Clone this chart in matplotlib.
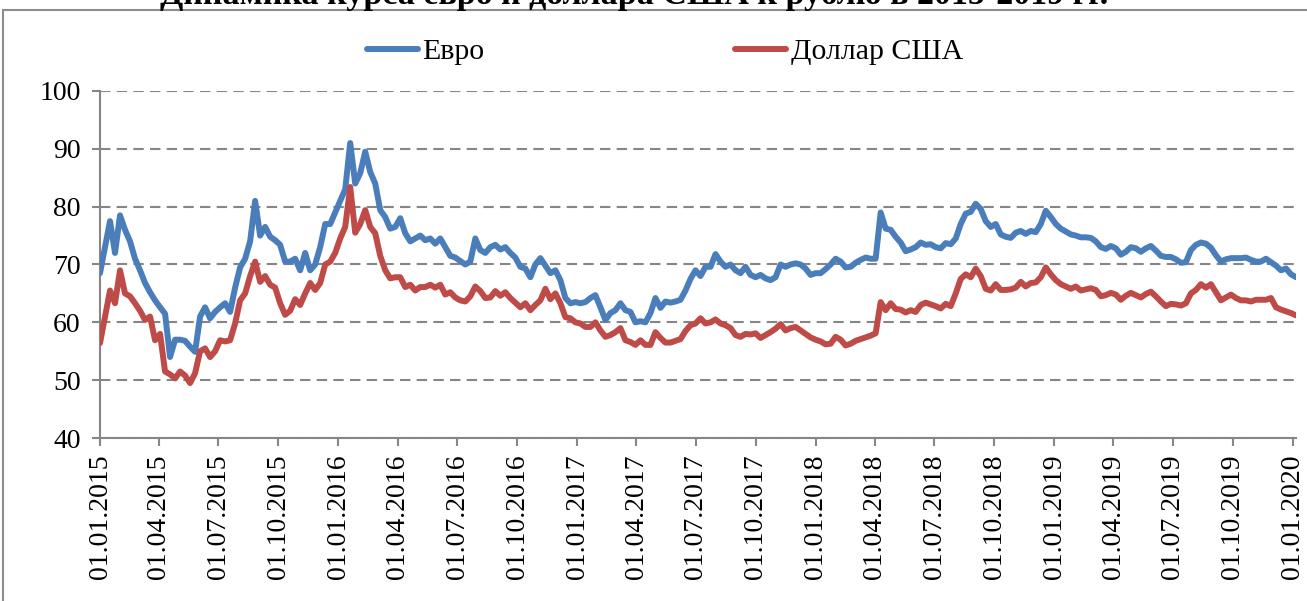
import matplotlib
matplotlib.use("Agg")
import matplotlib.pyplot as plt
import matplotlib.patches as mpatches
import pandas as pd

plt.rcParams['font.family'] = ['Liberation Serif', 'DejaVu Serif']

title = "Динамика курса евро и доллара США к рублю в 2015-2019 гг."
series_names = ["Евро", "Доллар США"]
start_date = "2015-01-01"
end_date = "2020-01-06"

# курс евро, руб. (шаг ~ 1 неделя)
euro = [
    68.5, 73.0, 77.5, 72.0, 78.5, 76.0, 74.0, 71.0, 69.0, 66.8,
    65.2, 63.8, 62.6, 61.5, 54.0, 57.0, 57.0, 56.8, 55.8, 54.9,
    61.0, 62.6, 60.7, 61.8, 62.6, 63.3, 61.8, 66.0, 69.5, 71.0,
    74.0, 81.0, 75.0, 76.5, 74.8, 74.2, 73.4, 70.5, 70.5, 71.0,
    69.0, 72.0, 69.0, 70.0, 73.0, 77.0, 77.0, 79.0, 81.0, 83.0,
    91.0, 84.0, 85.8, 89.5, 86.0, 84.0, 79.4, 78.2, 76.2, 76.5,
    78.0, 75.4, 74.0, 74.5, 75.0, 74.2, 74.5, 73.6, 74.5, 73.0,
    71.5, 71.2, 70.6, 70.0, 70.5, 74.5, 72.5, 72.0, 73.0, 73.4,
    72.6, 73.0, 72.0, 71.2, 69.6, 69.3, 67.8, 70.0, 71.1, 69.8,
    68.5, 69.0, 67.3, 64.2, 63.3, 63.5, 63.3, 63.5, 64.2, 64.7,
    62.6, 60.4, 61.6, 62.1, 63.3, 62.1, 61.8, 60.0, 60.2, 60.0,
    61.6, 64.2, 62.5, 63.6, 63.4, 63.6, 63.9, 65.5, 67.5, 69.0,
    68.0, 69.6, 69.6, 71.8, 70.5, 69.6, 70.0, 69.0, 68.5, 69.6,
    68.2, 67.8, 68.2, 67.6, 67.3, 67.8, 70.0, 69.6, 70.0, 70.2,
    70.0, 69.3, 68.2, 68.5, 68.5, 69.2, 70.0, 71.0, 70.5, 69.5,
    69.6, 70.3, 70.8, 71.2, 71.0, 71.0, 79.0, 76.2, 76.0, 74.8,
    73.8, 72.3, 72.6, 73.0, 73.8, 73.4, 73.5, 73.0, 72.8, 73.7,
    73.5, 74.5, 77.0, 78.8, 79.1, 80.5, 79.6, 77.5, 76.5, 77.0,
    75.2, 74.8, 74.6, 75.5, 75.8, 75.3, 75.8, 75.6, 77.0, 79.3,
    78.2, 77.0, 76.2, 75.7, 75.2, 75.0, 74.7, 74.7, 74.6, 74.0,
    73.0, 72.7, 73.2, 72.8, 71.7, 72.2, 73.0, 72.8, 72.2, 72.8,
    73.2, 72.4, 71.5, 71.3, 71.3, 70.9, 70.3, 70.4, 72.5, 73.4,
    73.8, 73.6, 72.9, 71.6, 70.5, 70.9, 71.1, 71.1, 71.1, 71.2,
    70.8, 70.5, 70.5, 71.0, 70.4, 69.8, 69.0, 69.3, 68.3, 67.8,
]

# курс доллара США, руб.
usd = [
    56.4, 61.0, 65.5, 63.3, 69.0, 65.0, 64.5, 63.3, 62.0, 60.4,
    61.0, 56.9, 58.0, 51.5, 51.0, 50.3, 51.5, 50.8, 49.5, 51.2,
    55.0, 55.5, 54.0, 55.0, 56.9, 56.7, 56.9, 59.8, 63.8, 65.0,
    68.0, 70.5, 67.0, 68.0, 66.5, 66.0, 63.3, 61.3, 62.0, 64.0,
    63.0, 65.0, 66.8, 65.6, 66.8, 70.0, 70.5, 72.0, 74.5, 76.5,
    83.4, 75.5, 77.0, 79.4, 76.5, 75.4, 71.5, 69.0, 67.6, 67.8,
    67.8, 66.1, 66.5, 65.5, 66.1, 66.1, 66.5, 66.0, 66.5, 64.8,
    65.2, 64.3, 63.8, 63.6, 64.5, 66.2, 65.4, 64.2, 64.3, 65.4,
    64.6, 65.2, 64.2, 63.4, 62.6, 63.3, 62.1, 63.0, 63.8, 65.8,
    64.0, 65.0, 63.3, 60.9, 60.7, 60.0, 59.8, 59.2, 59.2, 60.0,
    58.6, 57.5, 57.8, 58.3, 59.0, 56.9, 56.6, 56.1, 56.9, 56.1,
    56.1, 58.3, 57.3, 56.5, 56.5, 56.8, 57.1, 58.5, 59.5, 59.8,
    60.7, 59.8, 60.0, 60.5, 59.8, 59.5, 59.0, 57.8, 57.5, 58.0,
    57.9, 58.1, 57.3, 57.8, 58.3, 58.9, 59.7, 58.6, 59.0, 59.2,
    58.6, 58.0, 57.4, 57.0, 56.7, 56.2, 56.3, 57.5, 57.0, 56.0,
    56.3, 56.8, 57.1, 57.4, 57.7, 58.1, 63.5, 62.1, 63.3, 62.3,
    62.2, 61.7, 62.1, 61.8, 63.0, 63.4, 63.1, 62.8, 62.4, 63.2,
    62.8, 65.0, 67.5, 68.3, 67.8, 69.3, 68.0, 65.8, 65.5, 66.6,
    65.6, 65.6, 65.7, 66.0, 67.0, 66.2, 66.8, 66.9, 67.8, 69.5,
    68.3, 67.3, 66.6, 66.2, 65.8, 66.2, 65.5, 65.7, 65.9, 65.6,
    64.5, 64.7, 65.1, 64.8, 63.9, 64.6, 65.1, 64.7, 64.3, 64.9,
    65.3, 64.5, 63.6, 62.8, 63.2, 63.1, 62.9, 63.3, 65.0, 65.6,
    66.6, 66.0, 66.6, 65.2, 63.8, 64.3, 64.8, 64.2, 63.8, 63.8,
    63.6, 63.9, 63.9, 63.9, 64.2, 62.6, 62.2, 61.9, 61.6, 61.2,
]

dates = pd.date_range(start_date, end_date, periods=len(euro))
tick_dates = pd.date_range("2015-01-01", "2020-01-01", freq="QS")
tick_labels = [d.strftime("%d.%m.%Y") for d in tick_dates]

W, H = 1307, 601
fig = plt.figure(figsize=(W / 100, H / 100), dpi=100)
grey = "#868686"

# рамка области диаграммы
fig.patches.append(mpatches.Rectangle((3 / W, -0.1), 1.2, 1 - 10 / H + 0.1,
                                      transform=fig.transFigure, fill=False,
                                      ec="#8c8c8c", lw=1.5))

ax = fig.add_axes([100 / W, 1 - 438 / H, 1196 / W, 347 / H])

l1, = ax.plot(dates, euro, color="#4A7EBB", lw=4.3, solid_joinstyle="round",
              solid_capstyle="round", label=series_names[0], zorder=3)
l2, = ax.plot(dates, usd, color="#BE4B48", lw=4.3, solid_joinstyle="round",
              solid_capstyle="round", label=series_names[1], zorder=3)

ax.set_ylim(40, 100)
ax.set_yticks(range(40, 101, 10))
ax.set_xlim(pd.Timestamp(start_date), pd.Timestamp(end_date))
ax.set_xticks(tick_dates)
ax.set_xticklabels(tick_labels, rotation=90)

ax.yaxis.grid(True, color=grey, lw=1.5, linestyle=(0, (5, 3)))
ax.set_axisbelow(True)
for s in ["top", "right"]:
    ax.spines[s].set_visible(False)
for s in ["left", "bottom"]:
    ax.spines[s].set_color(grey)
    ax.spines[s].set_linewidth(1.5)
ax.tick_params(axis="both", colors=grey, width=1.5, length=6, labelsize=20,
               labelcolor="black")
ax.tick_params(axis="y", pad=8)
ax.tick_params(axis="x", pad=6)

fig.legend(handles=[l1, l2], loc="center", bbox_to_anchor=(665 / W, 1 - 52 / H),
           ncol=2, frameon=False, fontsize=21.5, handlelength=1.7,
           handletextpad=0.15, columnspacing=8.4)

fig.text(0.485, 1 - 4 / H, title, ha="center", va="baseline",
         fontsize=24.5, fontweight="bold")

fig.savefig("out.png", dpi=100)
